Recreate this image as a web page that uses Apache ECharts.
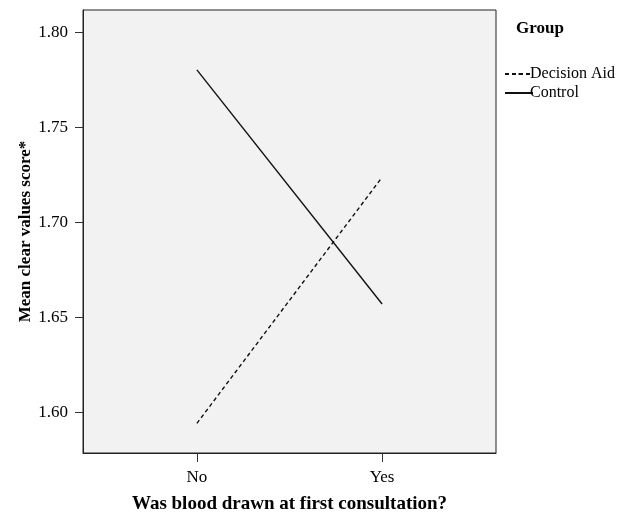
<!DOCTYPE html>
<html>
<head>
<meta charset="utf-8">
<script src="https://cdn.jsdelivr.net/npm/echarts@6/dist/echarts.min.js"></script>
<style>
  html, body { margin: 0; padding: 0; background: #fff; }
  #chart { width: 627px; height: 513px; }
</style>
</head>
<body>
<div id="chart"></div>
<script>
// categories on the x axis
const categories = ['No', 'Yes'];
// mean clear values score per group
const decisionAid = [1.5944, 1.7239];
const control = [1.7804, 1.6572];
const yTicks = [1.60, 1.65, 1.70, 1.75, 1.80];

const font = 'Liberation Serif';

function toPoints(arr) {
  return arr.map((v, i) => [i, v]);
}

let myChart = echarts.init(document.getElementById('chart'));
let option = {
  animation: false,
  title: {
    text: 'Group',
    left: 511,
    top: 15,
    textStyle: { fontFamily: font, fontSize: 17, fontWeight: 'bold', color: '#000' }
  },
  legend: {
    orient: 'vertical',
    left: 504,
    top: 66,
    padding: 0,
    itemWidth: 28,
    itemHeight: 2,
    itemGap: 3,
    textStyle: { fontFamily: font, fontSize: 16, color: '#000', padding: [0, 0, 0, -8] },
    data: ['Decision Aid', 'Control']
  },
  grid: {
    left: 83,
    right: 131,
    top: 10,
    bottom: 60,
    outerBoundsMode: 'none',
    show: true,
    backgroundColor: '#f2f2f2',
    borderColor: '#222',
    borderWidth: 1
  },
  xAxis: {
    type: 'value',
    min: -0.615,
    max: 1.615,
    name: 'Was blood drawn at first consultation?',
    nameLocation: 'middle',
    nameGap: 42,
    nameMoveOverlap: false,
    nameTextStyle: { fontFamily: font, fontSize: 19, fontWeight: 'bold', color: '#000' },
    axisLine: { show: true, onZero: false, lineStyle: { color: '#222' } },
    axisTick: { show: true, length: 9, customValues: [0, 1], lineStyle: { color: '#333' } },
    axisLabel: {
      customValues: [0, 1],
      margin: 16,
      fontFamily: font, fontSize: 17, color: '#000',
      formatter: v => categories[Math.round(v)]
    },
    splitLine: { show: false }
  },
  yAxis: {
    type: 'value',
    min: 1.5788,
    max: 1.8119,
    name: 'Mean clear values score*',
    nameLocation: 'middle',
    nameGap: 49,
    nameMoveOverlap: false,
    nameTextStyle: { fontFamily: font, fontSize: 17, fontWeight: 'bold', color: '#000' },
    axisLine: { show: true, onZero: false, lineStyle: { color: '#222' } },
    axisTick: { show: true, length: 8, customValues: yTicks, lineStyle: { color: '#333' } },
    axisLabel: {
      customValues: yTicks,
      margin: 15,
      fontFamily: font, fontSize: 17, color: '#000',
      formatter: v => v.toFixed(2)
    },
    splitLine: { show: false }
  },
  series: [
    {
      name: 'Decision Aid',
      type: 'line',
      symbol: 'none',
      data: toPoints(decisionAid),
      lineStyle: { color: '#111', width: 1.4, type: [4, 3] },
      itemStyle: { color: '#111' }
    },
    {
      name: 'Control',
      type: 'line',
      symbol: 'none',
      data: toPoints(control),
      lineStyle: { color: '#111', width: 1.4 },
      itemStyle: { color: '#111' }
    }
  ]
};
myChart.setOption(option);
</script>
</body>
</html>
